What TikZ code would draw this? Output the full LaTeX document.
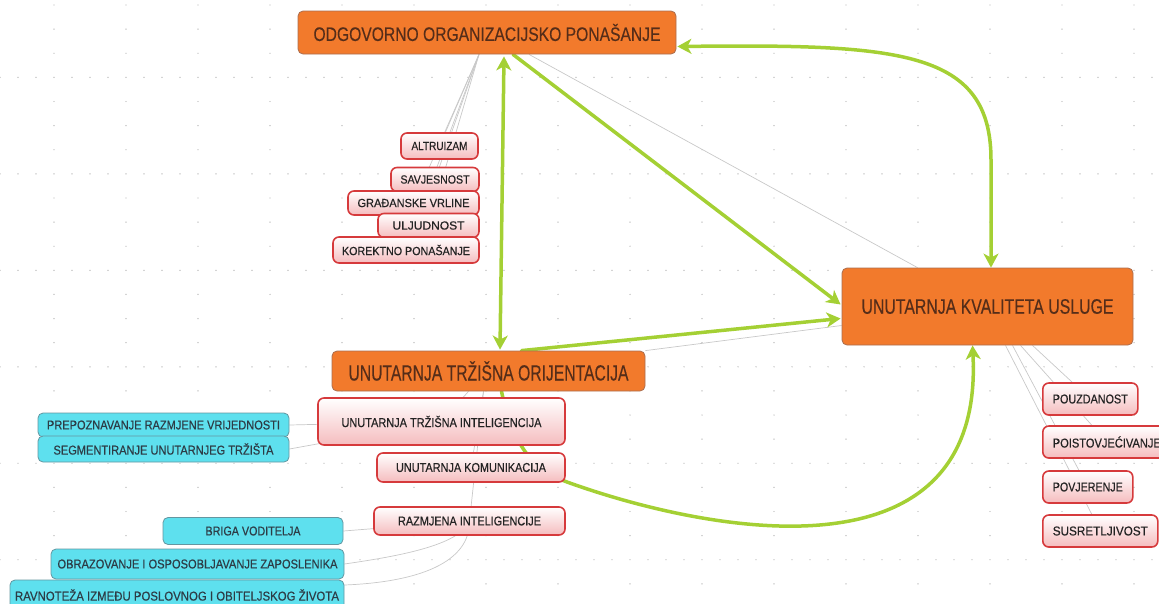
\documentclass[tikz,border=0pt]{standalone}
\usepackage{fontspec}
\setmainfont{Liberation Sans}[FakeBold=0.5]
\newfontfamily\bigf{Liberation Sans}[FakeBold=0.3]
\usetikzlibrary{arrows.meta,calc,backgrounds}
\pgfdeclarelayer{grid}
\pgfsetlayers{grid,background,main}
\definecolor{oran}{RGB}{242,122,44}
\definecolor{oranb}{RGB}{170,110,80}
\definecolor{orantx}{RGB}{85,45,25}
\definecolor{redb}{RGB}{214,58,60}
\definecolor{pinkb}{RGB}{245,188,190}
\definecolor{cyanf}{RGB}{94,224,238}
\definecolor{cyanb}{RGB}{100,150,160}
\definecolor{greenl}{RGB}{164,208,52}
\definecolor{grayl}{RGB}{200,200,200}
\definecolor{dotc}{RGB}{180,180,180}
\definecolor{txd}{RGB}{35,35,35}
\definecolor{txc}{RGB}{45,60,70}
\newcommand\fittx[2]{\resizebox{#1pt}{\height}{#2}}
\tikzset{
  obox/.style={draw=oranb, line width=0.8pt, fill=oran, rounded corners=5pt, inner sep=0pt, text=orantx},
  rbox/.style={draw=redb, line width=1.6pt, top color=white, bottom color=pinkb, rounded corners=6pt, inner sep=0pt, text=txd},
  cbox/.style={draw=cyanb, line width=0.8pt, fill=cyanf, rounded corners=5pt, inner sep=0pt, text=txc, font=\fontsize{12.8pt}{14pt}\selectfont},
  garrow/.style={draw=greenl, line width=3.5pt, line cap=round, >={Stealth[length=14pt,width=15pt,inset=4pt]}},
  gline/.style={draw=grayl, line width=0.7pt},
  smallf/.style={font=\fontsize{11.8pt}{13pt}\selectfont},
  midf/.style={font=\fontsize{12.8pt}{14pt}\selectfont},
}
\begin{document}
\begin{tikzpicture}[x=1pt,y=-1pt]
\useasboundingbox (0,0) rectangle (1159,603);
\clip (0,0) rectangle (1159,603);
% dot grid
\begin{pgfonlayer}{grid}
\foreach \k in {0,...,24}{
  \pgfmathsetmacro\yy{5+24.12*\k}
  \pgfmathtruncatemacro\md{mod(\k,4)}
  \ifnum\md=3
    \foreach \i in {0,...,64} \fill[dotc] (18*\i,\yy) circle[radius=0.7pt];
  \else
    \foreach \i in {0,...,15} \fill[dotc] (54+72*\i,\yy) circle[radius=0.7pt];
  \fi
}
\end{pgfonlayer}

% main orange nodes
\node[obox, minimum width=378pt, minimum height=43pt, font=\bigf\fontsize{19.5pt}{22pt}\selectfont] (oop) at (487,32.5) {\fittx{347}{ODGOVORNO ORGANIZACIJSKO PONAŠANJE}};
\node[obox, minimum width=291pt, minimum height=77pt, font=\bigf\fontsize{21pt}{24pt}\selectfont] (uku) at (987.5,306.5) {\fittx{252}{UNUTARNJA KVALITETA USLUGE}};
\node[obox, minimum width=313pt, minimum height=40pt, font=\bigf\fontsize{22pt}{24pt}\selectfont] (uto) at (488.5,371) {\fittx{280}{UNUTARNJA TRŽIŠNA ORIJENTACIJA}};

% OOP children
\node[rbox, smallf, minimum width=77pt, minimum height=26pt] (alt) at (439.5,146) {\fittx{56}{ALTRUIZAM}};
\node[rbox, smallf, minimum width=88pt, minimum height=24pt] (sav) at (435,179.5) {\fittx{69}{SAVJESNOST}};
\node[rbox, smallf, minimum width=131pt, minimum height=24pt] (gra) at (413.5,203) {\fittx{112}{GRAĐANSKE VRLINE}};
\node[rbox, smallf, minimum width=101pt, minimum height=24pt] (ulj) at (428.5,225.5) {\fittx{72}{ULJUDNOST}};
\node[rbox, smallf, minimum width=146pt, minimum height=26pt] (kor) at (406,250) {\fittx{128}{KOREKTNO PONAŠANJE}};

% UKU children
\node[rbox, midf, anchor=west, inner xsep=10pt, minimum height=32pt] (pou) at (1042,399) {\fittx{75}{POUZDANOST}};
\node[rbox, midf, anchor=west, inner xsep=10pt, minimum height=32pt] (poi) at (1042,442) {\fittx{108}{POISTOVJEĆIVANJE}};
\node[rbox, midf, anchor=west, inner xsep=10pt, minimum height=32pt] (pov) at (1042,487) {\fittx{70}{POVJERENJE}};
\node[rbox, midf, anchor=west, inner xsep=10pt, minimum height=32pt] (sus) at (1042,531) {\fittx{95}{SUSRETLJIVOST}};

% UTO children
\node[rbox, midf, minimum width=247pt, minimum height=47pt] (uti) at (441.5,421.5) {\fittx{200}{UNUTARNJA TRŽIŠNA INTELIGENCIJA}};
\node[rbox, midf, minimum width=188pt, minimum height=29pt] (ukom) at (471,467.5) {\fittx{150}{UNUTARNJA KOMUNIKACIJA}};
\node[rbox, midf, minimum width=191pt, minimum height=28pt] (raz) at (469.5,521) {\fittx{143}{RAZMJENA INTELIGENCIJE}};

% cyan nodes
\node[cbox, minimum width=251pt, minimum height=24pt] (prep) at (163.5,425) {\fittx{233}{PREPOZNAVANJE RAZMJENE VRIJEDNOSTI}};
\node[cbox, minimum width=251pt, minimum height=26pt] (seg) at (163.5,449) {\fittx{220}{SEGMENTIRANJE UNUTARNJEG TRŽIŠTA}};
\node[cbox, minimum width=180pt, minimum height=27pt] (bri) at (253,531) {\fittx{95}{BRIGA VODITELJA}};
\node[cbox, minimum width=293pt, minimum height=30pt] (obr) at (197.5,564) {\fittx{280}{OBRAZOVANJE I OSPOSOBLJAVANJE ZAPOSLENIKA}};
\node[cbox, minimum width=334pt, minimum height=30pt] (rav) at (177,595) {\fittx{324}{RAVNOTEŽA IZMEĐU POSLOVNOG I OBITELJSKOG ŽIVOTA}};

\coordinate (kbend) at (567,482);

\begin{scope}[on background layer]
% gray tree lines
\foreach \c in {alt,sav,gra,ulj,kor}
  \draw[gline] ($(oop.south)+(-8,0)$) -- (\c.center);
\draw[gline] ($(oop.south)+(42,0)$) -- ($(uku.north)+(-70,0)$);
\draw[gline] (uto.north east) -- ($(uku.west)+(0,19)$);
\draw[gline] ($(uto.south)+(-20,0)$) -- (uti.center);
\draw[gline] ($(uto.south)+(-5,0)$) -- (ukom.center);
\draw[gline] ($(uto.south)+(-5,0)$) -- (raz.center);
\draw[gline] (uti.center) -- (prep.east);
\draw[gline] (uti.center) -- (seg.east);
\draw[gline] (raz.center) -- (bri.east);
\draw[gline] (raz.center) .. controls (460,545) and (400,556) .. (obr.east);
\draw[gline] (raz.center) .. controls (470,562) and (420,582) .. ($(rav.east)+(0,-10)$);
\draw[gline] ($(uku.south)+(45,0)$) -- (pou.center);
\draw[gline] ($(uku.south)+(33,0)$) -- (poi.center);
\draw[gline] ($(uku.south)+(25,0)$) -- (pov.center);
\draw[gline] ($(uku.south)+(18,0)$) -- (sus.center);
% green relations
\draw[garrow, <->] ($(oop.east)+(1,14)$) .. controls (900,44) and (991,50) .. (991,160) -- ($(uku.north)+(3.5,0)$);
\draw[garrow, <->] ($(oop.south)+(17,2)$) -- ($(uto.north)+(11.5,-1)$);
\draw[garrow, ->] ($(oop.south)+(26,0)$) -- ($(uku.west)+(-1,-2)$);
\draw[garrow, ->] ($(uto.north)+(33,0)$) -- ($(uku.west)+(-1,12)$);
\draw[garrow, ->] ($(uto.south)+(13,0)$) .. controls (515,455) and (540,472) .. (kbend)
   .. controls (700,530) and (985,590) .. ($(uku.south)+(-15,0)$);
\end{scope}
\end{tikzpicture}
\end{document}
